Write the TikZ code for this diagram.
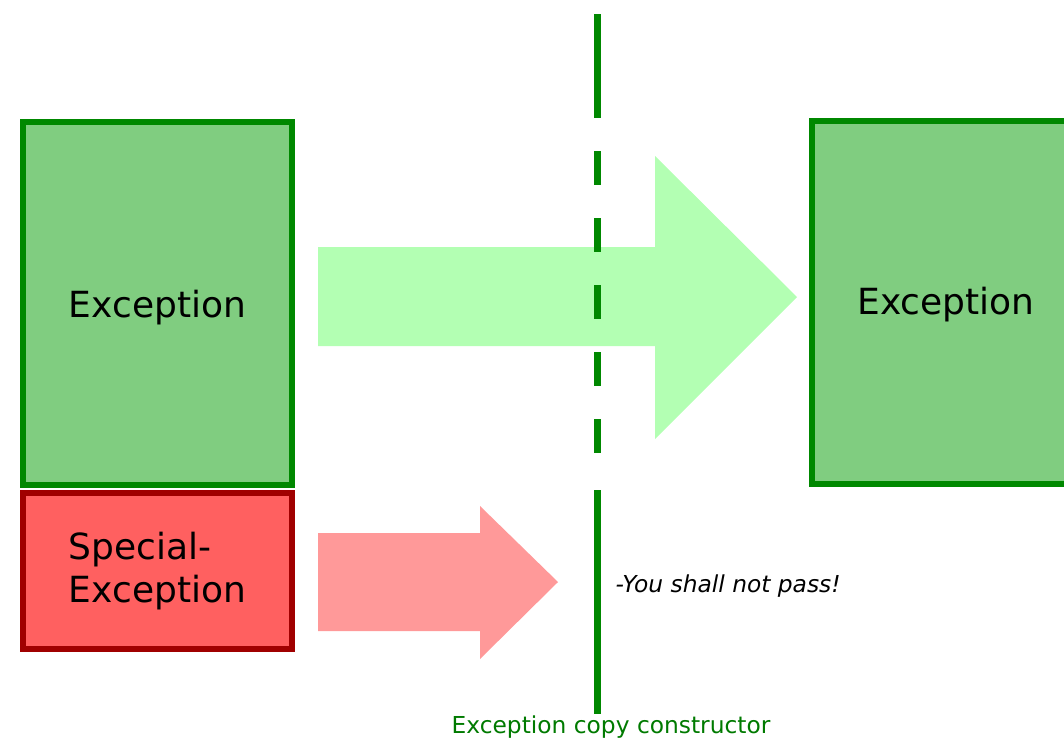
\documentclass[tikz,border=0pt]{standalone}
\usepackage{fontspec}
\setmainfont{DejaVu Sans}
\usepackage{tikz}
\usetikzlibrary{positioning,calc}
\definecolor{exgreen}{RGB}{128,205,128}
\definecolor{exline}{RGB}{0,136,0}
\definecolor{spred}{RGB}{255,96,96}
\definecolor{spline}{RGB}{160,0,0}
\definecolor{passgreen}{RGB}{179,255,179}
\definecolor{blockred}{RGB}{255,153,153}

\begin{document}
\begin{tikzpicture}[x=0.75pt,y=-0.75pt,
  exbox/.style={draw=exline, fill=exgreen, line width=4.5pt, inner sep=0pt,
    minimum width=201.75pt, minimum height=272.25pt},
  spbox/.style={draw=spline, fill=spred, line width=4.5pt, inner sep=0pt,
    minimum width=201.75pt, minimum height=117pt},
  boxtext/.style={font=\fontsize{27}{32}\selectfont, align=left},
  cutline/.style={exline, line width=5.25pt}]
\useasboundingbox (0,0) rectangle (1064,740);
\clip (0,0) rectangle (1064,740);

% objects
\node[exbox] (srcex) at (157.5,303.5) {};
\node[boxtext] (srctxt) at ($(srcex.center)+(0,4)$) {Exception};
\node[spbox] (spex) at (157.5,571) {};
\node[boxtext] (sptxt) at (spex.center) {Special-\\Exception};
\node[exbox] (dstex) at (946,302.5) {};
\node[boxtext] (dsttxt) at ($(dstex.center)+(0,2)$) {Exception};

% block arrows
\fill[passgreen] (318,247) -- (655,247) -- (655,156) -- (797,297) -- (655,439) -- (655,346) -- (318,346) -- cycle;
\fill[blockred] (318,533) -- (480,533) -- (480,506) -- (558,582) -- (480,659) -- (480,631) -- (318,631) -- cycle;

% copy constructor boundary
\coordinate (cuttop) at (597,14);
\coordinate (cutbot) at (597,714);
\draw[cutline] (cuttop) -- ($(cuttop)+(0,104)$);
\foreach \y in {151,218,285,352,419}
  \draw[cutline] (597,\y) -- (597,\y+34);
\draw[cutline] ($(cutbot)+(0,-224)$) -- (cutbot);

\node[font=\fontsize{17.5}{21}\selectfont, text=exline!90!black, anchor=base] (ctor) at ($(cutbot)+(14,19)$) {Exception copy constructor};
\node[font=\fontsize{17.5}{20}\selectfont\itshape, anchor=west] (pass) at (611,586) {-You shall not pass!};
\end{tikzpicture}
\end{document}
